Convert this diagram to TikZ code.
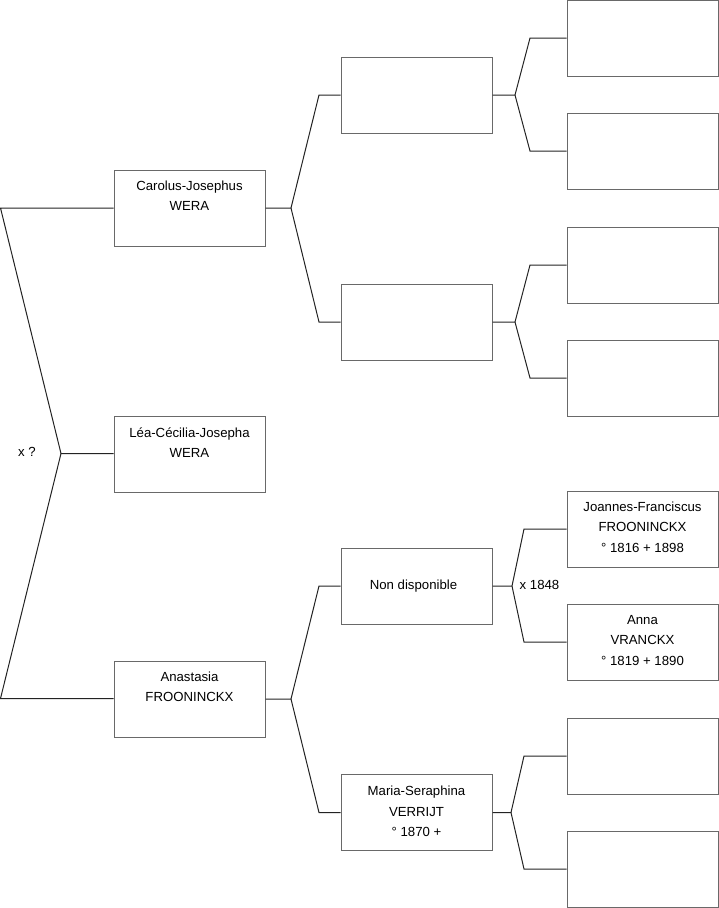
\documentclass[tikz,border=0pt]{standalone}
\usepackage{fontspec}
\setmainfont{Liberation Sans}
\usetikzlibrary{calc}
\definecolor{boxgray}{RGB}{105,105,105}
\definecolor{linegray}{RGB}{35,35,35}
\newcommand{\ftlines}[1]{\begin{tabular}[t]{@{}c@{}}#1\end{tabular}}
\tikzset{
  pbox/.style={draw=boxgray, line width=1pt, minimum width=151pt, minimum height=76pt, inner sep=0pt, fill=white},
  ptext/.style={anchor=base, inner sep=0pt, font=\fontsize{13.2}{20.5}\selectfont},
  link/.style={draw=linegray, line width=1pt},
}
\begin{document}
\begin{tikzpicture}[x=1pt,y=-1pt]
\useasboundingbox (0,0) rectangle (719,908);
% column 1
\node[pbox] (c1) at (189.5,208) {};
\node[pbox] (c2) at (189.5,454) {};
\node[pbox] (c3) at (189.5,699) {};
% column 2
\node[pbox] (d1) at (416.5,95) {};
\node[pbox] (d2) at (416.5,322) {};
\node[pbox] (d3) at (416.5,586) {};
\node[pbox] (d4) at (416.5,812.5) {};
% column 3
\node[pbox] (e1) at (642.5,38) {};
\node[pbox] (e2) at (642.5,151) {};
\node[pbox] (e3) at (642.5,265) {};
\node[pbox] (e4) at (642.5,378) {};
\node[pbox] (e5) at (642.5,529) {};
\node[pbox] (e6) at (642.5,642) {};
\node[pbox] (e7) at (642.5,756) {};
\node[pbox] (e8) at (642.5,869) {};
% texts
\node[ptext] (c1t) at ($(c1.north)+(0,20.5)$) {\ftlines{Carolus-Josephus\\WERA}};
\node[ptext] (c2t) at ($(c2.north)+(0,21.5)$) {\ftlines{Léa-Cécilia-Josepha\\WERA}};
\node[ptext] (c3t) at ($(c3.north)+(0,20.5)$) {\ftlines{Anastasia\\FROONINCKX}};
\node[ptext] (d3t) at ($(d3.north)+(-3,41.5)$) {\ftlines{Non disponible}};
\node[ptext] (d4t) at ($(d4.north)+(0,21.5)$) {\ftlines{Maria-Seraphina\\VERRIJT\\° 1870 +}};
\node[ptext] (e5t) at ($(e5.north)+(0,20.5)$) {\ftlines{Joannes-Franciscus\\FROONINCKX\\° 1816 + 1898}};
\node[ptext] (e6t) at ($(e6.north)+(0,20.5)$) {\ftlines{Anna\\VRANCKX\\° 1819 + 1890}};
% joints
\coordinate (j0a) at (0.5,208);
\coordinate (j0b) at (61,453.5);
\coordinate (j0c) at (0.5,698.5);
\coordinate (j1) at (291,208);
\coordinate (j1a) at (319,95);
\coordinate (j1b) at (319,322);
\coordinate (j3) at (291,699);
\coordinate (j3a) at (319,586);
\coordinate (j3b) at (319,812.5);
\coordinate (k1) at (515,95);
\coordinate (k1a) at (530,38);
\coordinate (k1b) at (530,151);
\coordinate (k2) at (515,322);
\coordinate (k2a) at (530,265);
\coordinate (k2b) at (530,378);
\coordinate (k3) at (512,586);
\coordinate (k3a) at (524,529);
\coordinate (k3b) at (524,642);
\coordinate (k4) at (511,812.5);
\coordinate (k4a) at (524,756);
\coordinate (k4b) at (524,869);
% connectors
\draw[link] (c1.west) -- (j0a) -- (j0b) -- (j0b -| c2.west);
\draw[link] (j0b) -- (j0c) -- (j0c -| c3.west);
\draw[link] (c1.east) -- (j1) -- (j1a) -- (d1.west);
\draw[link] (j1) -- (j1b) -- (d2.west);
\draw[link] (c3.east) -- (j3) -- (j3a) -- (d3.west);
\draw[link] (j3) -- (j3b) -- (d4.west);
\draw[link] (d1.east) -- (k1) -- (k1a) -- (e1.west);
\draw[link] (k1) -- (k1b) -- (e2.west);
\draw[link] (d2.east) -- (k2) -- (k2a) -- (e3.west);
\draw[link] (k2) -- (k2b) -- (e4.west);
\draw[link] (d3.east) -- (k3) -- (k3a) -- (e5.west);
\draw[link] (k3) -- (k3b) -- (e6.west);
\draw[link] (d4.east) -- (k4) -- (k4a) -- (e7.west);
\draw[link] (k4) -- (k4b) -- (e8.west);
% marriage labels
\node[ptext, anchor=center] (m0) at (27,452) {x ?};
\node[ptext, anchor=center] (m1) at (539.5,585) {x 1848};
\end{tikzpicture}
\end{document}
